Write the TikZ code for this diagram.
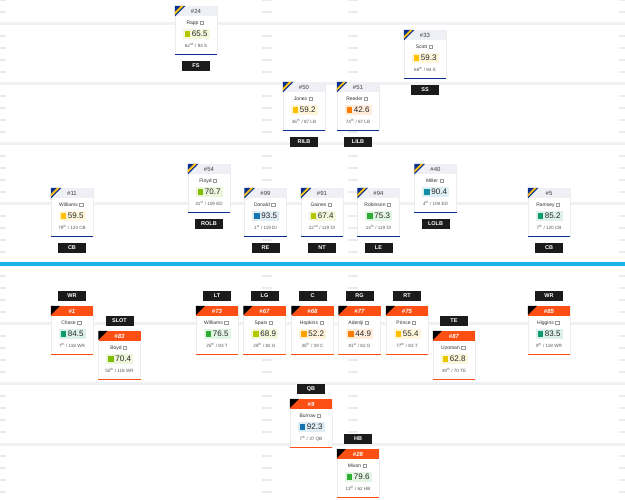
\documentclass[tikz,border=0pt]{standalone}
\usepackage{fontspec}
\setmainfont{Liberation Sans}
\usetikzlibrary{positioning,calc}

\definecolor{navy}{HTML}{0B2F8F}
\definecolor{gold}{HTML}{FFC20E}
\definecolor{bengal}{HTML}{FB4F14}
\definecolor{headgray}{HTML}{EEF0F5}
\definecolor{lblblack}{HTML}{1B1B1B}
\definecolor{fieldgray}{HTML}{F0F1F4}
\definecolor{hashgray}{HTML}{EAEBEF}
\definecolor{scrim}{HTML}{1AB2E8}
% grade colours
\definecolor{gblue}{HTML}{1676B2}
\definecolor{gcyan}{HTML}{128EA6}
\definecolor{gteal}{HTML}{0E9A70}
\definecolor{ggreen}{HTML}{2EAF34}
\definecolor{glime}{HTML}{7EBE00}
\definecolor{gyg}{HTML}{B4C800}
\definecolor{gyel}{HTML}{E6C800}
\definecolor{gamb}{HTML}{FFC000}
\definecolor{gdor}{HTML}{FFA200}
\definecolor{gorg}{HTML}{FF7A00}

\begin{document}
\begin{tikzpicture}[
  x=1pt, y=-1pt,
  font=\fontsize{5}{6}\selectfont,
  card/.style={rectangle, draw=black!7, fill=white, minimum width=42pt,
               minimum height=48pt, inner sep=0pt, anchor=north},
  dhead/.style={rectangle, fill=headgray, minimum width=42pt, minimum height=10pt,
                inner sep=0pt, anchor=north, text=black!75,
                font=\fontsize{6}{7}\selectfont},
  ohead/.style={rectangle, fill=bengal, minimum width=42pt, minimum height=10pt,
                inner sep=0pt, anchor=north, text=white,
                font=\fontsize{6}{7}\selectfont\bfseries\itshape},
  pname/.style={inner sep=0pt, text=black!80},
  icon/.style={draw=black!40, line width=0.45pt},
  gbox/.style={rectangle, minimum width=27pt, minimum height=10pt, inner sep=0pt,
               text=black!85, font=\fontsize{8}{9}\selectfont},
  prank/.style={inner sep=0pt, text=black!65, font=\fontsize{4.6}{5}\selectfont},
  dline/.style={line width=1.4pt, draw=#1},
  poslbl/.style={rectangle, fill=lblblack, text=white, minimum width=28pt,
                 minimum height=10.5pt, inner sep=0pt,
                 font=\fontsize{5.5}{6}\selectfont\bfseries},
  field/.style={fill=fieldgray},
  hash/.style={draw=hashgray, line width=2pt}
]
% Field
\fill[white] (0,0) rectangle (625,500);
\useasboundingbox (0,0) rectangle (625,500);
\foreach \yy in {24,84,144,204,324,384,444}
  \fill[field] (0,\yy-1.5) rectangle (625,\yy+1.5);
\foreach \yb in {-36,24,...,444}
  \foreach \k in {12,24,36,48} {
    \draw[hash] (262,\yb+\k) -- (272,\yb+\k);
    \draw[hash] (348,\yb+\k) -- (358,\yb+\k);
    \draw[hash] (0,\yb+\k) -- (6,\yb+\k);
    \draw[hash] (619,\yb+\k) -- (625,\yb+\k);
  }
% Line of scrimmage
\fill[scrim] (0,262.5) rectangle (625,266);

% Defense cards
\foreach \id/\cx/\cy/\num/\who/\grade/\gc/\rk/\sx/\tot/\pos in {
  fs/196/6/24/Rapp/65.5/gyg/62/nd/94 S/FS,
  ss/425/30/33/Scott/59.3/gamb/66/th/94 S/SS,
  rilb/304/82/50/Jones/59.2/gamb/36/th/87 LB/RILB,
  lilb/358/82/51/Reeder/42.6/gorg/74/th/87 LB/LILB,
  cbl/72/188/11/Williams/59.5/gamb/79/th/120 CB/CB,
  rolb/209/164/54/Floyd/70.7/glime/31/st/109 ED/ROLB,
  re/265.5/188/99/Donald/93.5/gblue/1/st/119 DI/RE,
  nt/322/188/91/Gaines/67.4/gyg/22/nd/119 DI/NT,
  le/378.5/188/94/Robinson/75.3/ggreen/14/th/119 DI/LE,
  lolb/435.5/164/40/Miller/90.4/gcyan/4/th/109 ED/LOLB,
  cbr/549/188/5/Ramsey/85.2/gteal/7/th/120 CB/CB} {
  \node[card] (\id) at (\cx,\cy) {};
  \node[dhead] (\id-h) at (\id.north) {\#\num};
  \fill[navy] (\id.north west) -- ++(10.5,0) -- ++(-10.5,10.5) -- cycle;
  \fill[gold] ($(\id.north west)+(6.2,0)$) -- ++(2.6,0) -- ++(-8.8,8.8) -- ++(0,-2.6) -- cycle;
  \node[pname] (\id-n) at ($(\id.north)+(-3.5,17)$) {\who};
  \draw[icon] ($(\id-n.east)+(1.6,-1.6)$) rectangle ++(3.2,3);
  \node[gbox, fill=\gc!14] (\id-g) at ($(\id.north)+(0,28)$) {\hspace*{7.5pt}\grade};
  \fill[\gc] ($(\id-g.west)+(2.5,-2.7)$) rectangle ++(5.4,5.4);
  \node[prank] (\id-r) at ($(\id.north)+(0,39.5)$) {\rk\textsuperscript{\sx} / \tot};
  \draw[dline=navy] (\id.south west) -- (\id.south east);
  \node[poslbl, below=6pt of \id] (\id-p) {\pos};
}

% Offense cards
\foreach \id/\cx/\cy/\num/\who/\grade/\gc/\rk/\sx/\tot/\pos in {
  wrl/72/306/1/Chase/84.5/gteal/7/th/118 WR/WR,
  slot/119.5/331/83/Boyd/70.4/glime/50/th/118 WR/SLOT,
  lt/217/306/73/Williams/76.5/ggreen/25/th/83 T/LT,
  lg/264.5/306/67/Spain/68.9/gyg/28/th/82 G/LG,
  ctr/312.5/306/68/Hopkins/52.2/gdor/35/th/39 C/C,
  rg/359.5/306/77/Adeniji/44.9/gorg/81/st/82 G/RG,
  rt/407/306/75/Prince/55.4/gamb/77/th/83 T/RT,
  te/454/331/87/Uzomah/62.8/gyel/39/th/70 TE/TE,
  wrr/549/306/85/Higgins/83.5/gteal/9/th/118 WR/WR,
  qb/311/399/9/Burrow/92.3/gblue/7/th/37 QB/QB,
  hb/358/449/28/Mixon/79.6/ggreen/13/th/62 HB/HB} {
  \node[card] (\id) at (\cx,\cy) {};
  \node[ohead] (\id-h) at (\id.north) {\#\num};
  \fill[black] (\id.north west) -- ++(9,0) -- ++(-9,9) -- cycle;
  \node[pname] (\id-n) at ($(\id.north)+(-3.5,17)$) {\who};
  \draw[icon] ($(\id-n.east)+(1.6,-1.6)$) rectangle ++(3.2,3);
  \node[gbox, fill=\gc!14] (\id-g) at ($(\id.north)+(0,28)$) {\hspace*{7.5pt}\grade};
  \fill[\gc] ($(\id-g.west)+(2.5,-2.7)$) rectangle ++(5.4,5.4);
  \node[prank] (\id-r) at ($(\id.north)+(0,39.5)$) {\rk\textsuperscript{\sx} / \tot};
  \draw[dline=bengal] (\id.south west) -- (\id.south east);
  \node[poslbl, above=4.5pt of \id] (\id-p) {\pos};
}
\end{tikzpicture}
\end{document}
